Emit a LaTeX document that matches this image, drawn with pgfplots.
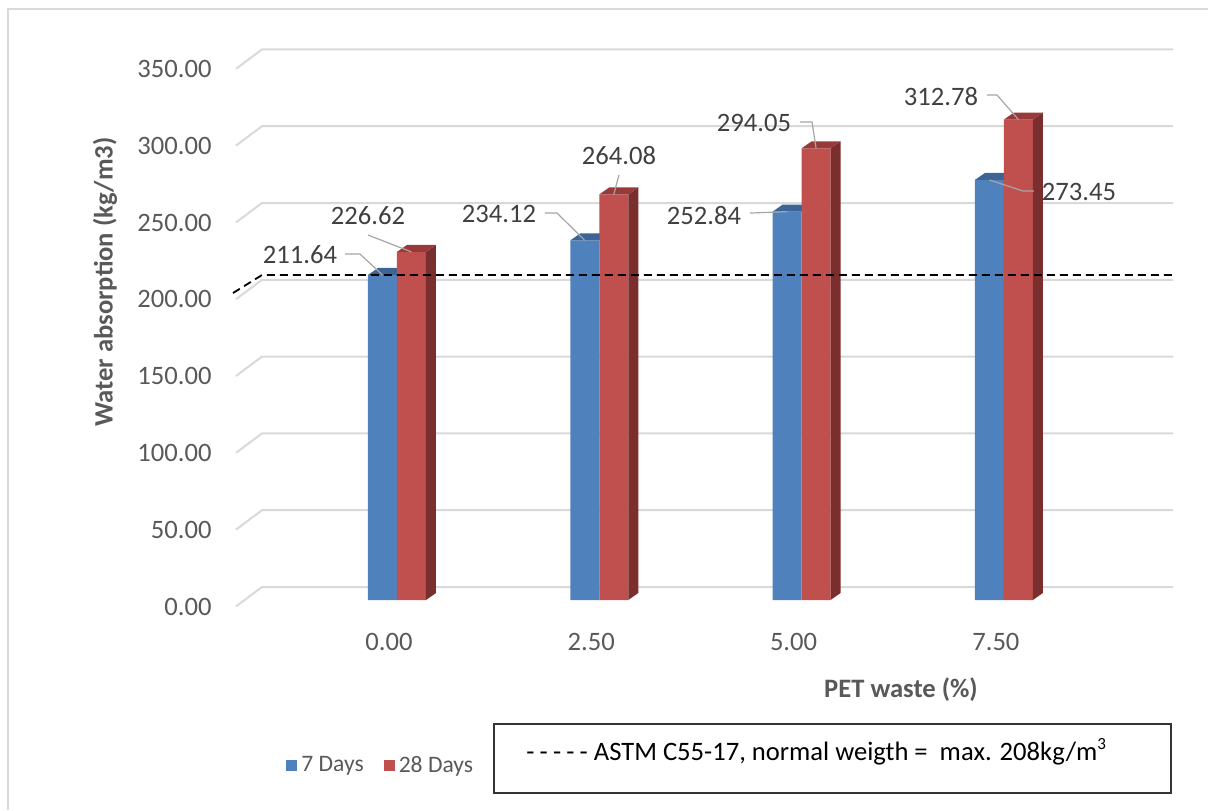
\documentclass[border=0pt]{standalone}
\usepackage{fontspec}
\setmainfont{Carlito}
\usepackage{pgfplots}
\usepackage{pgfplotstable}
\pgfplotsset{compat=1.18}

\definecolor{barBlue}{HTML}{4F81BD}
\definecolor{barBlueTop}{HTML}{3C6494}
\definecolor{barRed}{HTML}{C0504D}
\definecolor{barRedTop}{HTML}{98393A}
\definecolor{barRedSide}{HTML}{7A2E2D}
\definecolor{gridGray}{HTML}{D9D9D9}
\definecolor{tickGray}{HTML}{595959}
\definecolor{labelGray}{HTML}{404040}
\definecolor{leaderGray}{HTML}{A6A6A6}

\newcommand\lblfont{\fontsize{13.3}{16}\selectfont}
\newcommand\legfont{\fontsize{11.8}{14}\selectfont}

\tikzset{
  lbl/.style={font=\lblfont, text=labelGray, inner sep=0pt},
  leader/.style={leaderGray, line width=0.6pt},
}

% values, then label offsets (pt) from the bar top and leader-line geometry
\pgfplotstableread{
x  d7     d28    lx7    ly7   sx7   sy7  ex7   lx28   ly28   sx28 sy28 ex28
0  211.64 226.62 -41.25 9.95  22.5  0.5  7.5  -21.75 17.95  0    -9.5 0
1  234.12 264.08 -42.9  13.2  23    0.5  6    2.6    19.2   0    -9.5 0
2  252.84 294.05 -41.55 -1.7  23    1    0    -31.05 12.65  23   0.5  6
3  273.45 312.78 44.8   -6    -22.5 0.5  -5.5 -38.7  11.3   23   1    5
}\absorption

\begin{document}
\begin{tikzpicture}
\useasboundingbox (0,0) rectangle (604pt,405pt);
\draw[gridGray, line width=0.8pt] (4pt,0) -- (4pt,400.5pt) -- (604pt,400.5pt);
\begin{axis}[
  at={(131pt,105pt)}, anchor=south west,
  scale only axis, width=455.5pt, height=268.8pt,
  xmin=-0.6673, xmax=3.836, ymin=0, ymax=350,
  clip=false,
  axis line style={draw=none},
  major tick length=0pt,
  xtick={0,1,2,3}, xticklabels={0.00,2.50,5.00,7.50},
  ytick={0,50,100,150,200,250,300,350},
  yticklabel style={anchor=east, inner sep=0pt, xshift=-25pt, yshift=-3.3pt,
    text=tickGray, font=\lblfont,
    /pgf/number format/.cd, fixed, fixed zerofill, precision=2, assume math mode=true},
  xticklabel style={anchor=center, inner sep=0pt, xshift=-4pt, yshift=-21pt,
    text=tickGray, font=\lblfont},
  xlabel={PET waste (\%)},
  ylabel={Water absorption (kg/m3)},
  every axis x label/.style={at={(axis description cs:0.7014,-0.1674)}, anchor=center,
    font=\lblfont\bfseries, text=tickGray},
  every axis y label/.style={at={(axis description cs:-0.1723,0.5915)}, anchor=center,
    rotate=90, font=\lblfont\bfseries, text=tickGray},
  legend columns=2,
  legend style={at={(axis description cs:0.01976,-0.3078)}, anchor=west,
    draw=none, fill=none, font=\legfont, text=tickGray,
    /tikz/every even column/.append style={column sep=8pt}},
  legend image code/.code={\fill[#1] (0pt,-2.75pt) rectangle (5.5pt,2.75pt);},
]

% back-wall gridlines with their perspective stubs
\pgfplotsinvokeforeach{0,50,100,150,200,250,300,350}{
  \draw[gridGray, line width=1pt]
    ([xshift=-13pt,yshift=-3.2pt]axis cs:-0.6673,#1)
    -- ([yshift=6.5pt]axis cs:-0.6673,#1)
    -- ([yshift=6.5pt]axis cs:3.836,#1);
}

\addplot[ybar, bar width=14.5pt, bar shift=-7.25pt, fill=barBlue, draw=none]
  table[x=x, y=d7]{\absorption};
\addlegendentry{7 Days}

% top faces of the 7-day bars
\pgfplotsinvokeforeach{0,1,2,3}{%
  \pgfplotstablegetelem{#1}{d7}\of\absorption\let\vv\pgfplotsretval
  \edef\faces{%
    \noexpand\fill[barBlueTop] ([xshift=-14.5pt]axis cs:#1,\vv) -- ++(5pt,3.5pt)
      -- ++(14.5pt,0pt) -- (axis cs:#1,\vv) -- cycle;
  }\faces
}

\addplot[ybar, bar width=14.5pt, bar shift=7.25pt, fill=barRed, draw=none]
  table[x=x, y=d28]{\absorption};
\addlegendentry{28 Days}

% side and top faces of the 28-day bars
\pgfplotsinvokeforeach{0,1,2,3}{%
  \pgfplotstablegetelem{#1}{d28}\of\absorption\let\vv\pgfplotsretval
  \edef\faces{%
    \noexpand\fill[barRedSide] ([xshift=14.5pt]axis cs:#1,0) -- ++(5pt,3.5pt)
      -- ([xshift=19.5pt,yshift=3.5pt]axis cs:#1,\vv)
      -- ([xshift=14.5pt]axis cs:#1,\vv) -- cycle;
    \noexpand\fill[barRedTop] (axis cs:#1,\vv) -- ++(5pt,3.5pt)
      -- ++(14.5pt,0pt) -- ([xshift=14.5pt]axis cs:#1,\vv) -- cycle;
  }\faces
}

% ASTM C55-17 limit
\draw[black, line width=0.9pt, dash pattern=on 4pt off 2.5pt]
  ([xshift=-14.5pt,yshift=-6.25pt]axis cs:-0.6673,208)
  -- ([yshift=2.75pt]axis cs:-0.6673,208)
  -- ([yshift=2.75pt]axis cs:3.836,208);

% data labels with leader lines
\pgfplotsinvokeforeach{0,1,2,3}{%
  \pgfplotstablegetelem{#1}{d7}\of\absorption\let\vv\pgfplotsretval
  \pgfplotstablegetelem{#1}{lx7}\of\absorption\let\lx\pgfplotsretval
  \pgfplotstablegetelem{#1}{ly7}\of\absorption\let\ly\pgfplotsretval
  \pgfplotstablegetelem{#1}{sx7}\of\absorption\let\sx\pgfplotsretval
  \pgfplotstablegetelem{#1}{sy7}\of\absorption\let\sy\pgfplotsretval
  \pgfplotstablegetelem{#1}{ex7}\of\absorption\let\ex\pgfplotsretval
  \edef\labels{%
    \noexpand\node[lbl] (L) at ([xshift=\lx pt-7.25pt, yshift=\ly pt]axis cs:#1,\vv) {\vv};
    \noexpand\draw[leader] ([xshift=\sx pt, yshift=\sy pt]L.center) -- ++(\ex pt,0pt)
      -- ([xshift=-7.25pt]axis cs:#1,\vv);
  }\labels
  \pgfplotstablegetelem{#1}{d28}\of\absorption\let\vv\pgfplotsretval
  \pgfplotstablegetelem{#1}{lx28}\of\absorption\let\lx\pgfplotsretval
  \pgfplotstablegetelem{#1}{ly28}\of\absorption\let\ly\pgfplotsretval
  \pgfplotstablegetelem{#1}{sx28}\of\absorption\let\sx\pgfplotsretval
  \pgfplotstablegetelem{#1}{sy28}\of\absorption\let\sy\pgfplotsretval
  \pgfplotstablegetelem{#1}{ex28}\of\absorption\let\ex\pgfplotsretval
  \edef\labels{%
    \noexpand\node[lbl] (L) at ([xshift=\lx pt+7.25pt, yshift=\ly pt]axis cs:#1,\vv) {\vv};
    \noexpand\draw[leader] ([xshift=\sx pt, yshift=\sy pt]L.center) -- ++(\ex pt,0pt)
      -- ([xshift=7.25pt]axis cs:#1,\vv);
  }\labels
}
\end{axis}

\draw[black!80, line width=0.6pt] (247pt,8.5pt) rectangle (585.5pt,43pt);
\node[anchor=west, font=\lblfont, inner sep=0pt] at (263pt,29pt)
  {-\kern2.6pt-\kern2.6pt-\kern2.6pt-\kern2.6pt- ASTM C55-17, normal weigth = \ max. 208kg/m\raisebox{0.9ex}{\fontsize{8.5}{10}\selectfont 3}};
\end{tikzpicture}
\end{document}
